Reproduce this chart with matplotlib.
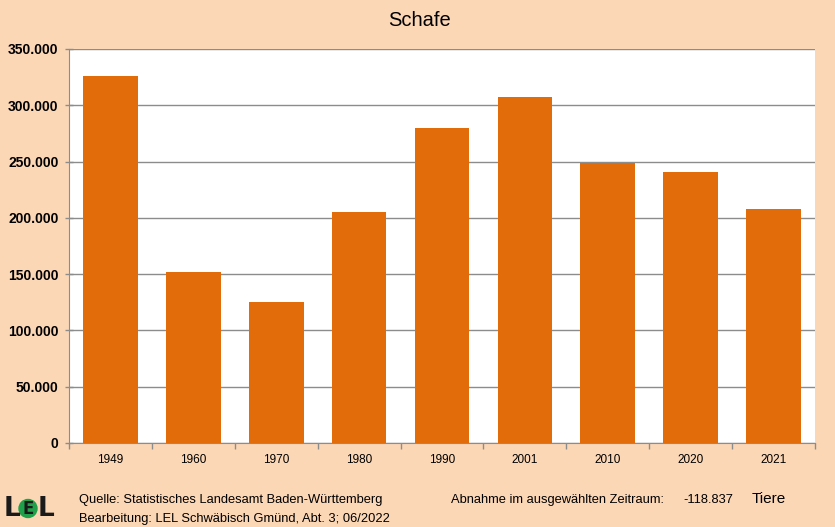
import matplotlib
matplotlib.use("Agg")
import matplotlib.pyplot as plt
from matplotlib.patches import Circle
import numpy as np

years = ["1949", "1960", "1970", "1980", "1990", "2001", "2010", "2020", "2021"]
values = [326300, 152000, 125300, 205200, 279800, 307300, 249000, 240700, 207500]
yticks = [0, 50000, 100000, 150000, 200000, 250000, 300000, 350000]
ytick_labels = ["0", "50.000", "100.000", "150.000", "200.000", "250.000", "300.000", "350.000"]

BG = "#FCD7B6"
BAR = "#E36C0A"
GRID = "#8C8C8C"
FONT = "Liberation Sans"

W, H = 835, 527
fig = plt.figure(figsize=(W / 100, H / 100), dpi=100, facecolor=BG)
ax = fig.add_axes([69 / W, 1 - 443 / H, (815 - 69) / W, (443 - 49) / H])
ax.set_facecolor("white")

x = np.arange(len(years))
ax.bar(x, values, width=0.66, color=BAR, zorder=3)
ax.set_xlim(-0.5, len(years) - 0.5)
ax.set_ylim(0, 350000)

ax.set_yticks(yticks)
ax.set_yticklabels(ytick_labels, fontsize=10, fontweight="bold", color="black", family=FONT)
ax.yaxis.grid(True, color=GRID, linewidth=1, zorder=0)
ax.tick_params(axis="y", direction="inout", length=6, color=GRID, width=1, pad=4.5)

ax.set_xticks(x)
ax.set_xticklabels(years, fontsize=8.5, color="black", family=FONT)
ax.tick_params(axis="x", length=0, pad=8)
ax.set_xticks(np.arange(len(years) + 1) - 0.5, minor=True)
ax.tick_params(axis="x", which="minor", direction="out", length=4, color=GRID, width=1)

for s in ["top", "right"]:
    ax.spines[s].set_visible(False)
ax.spines["left"].set_color(GRID)
ax.spines["bottom"].set_color(GRID)

fig.text(420 / W, 1 - 20 / H, "Schafe", ha="center", va="center", fontsize=14.5, color="black", family=FONT)

# footer
fs = 9.3
fig.text(79 / W, 1 - 500 / H, "Quelle: Statistisches Landesamt Baden-Württemberg",
         ha="left", va="center", fontsize=fs, family=FONT)
fig.text(79 / W, 1 - 519 / H, "Bearbeitung: LEL Schwäbisch Gmünd, Abt. 3; 06/2022",
         ha="left", va="center", fontsize=fs, family=FONT)
fig.text(451 / W, 1 - 500 / H, "Abnahme im ausgewählten Zeitraum:",
         ha="left", va="center", fontsize=fs, family=FONT)
fig.text(683 / W, 1 - 500 / H, "-118.837", ha="left", va="center", fontsize=fs, family=FONT)
fig.text(752 / W, 1 - 499 / H, "Tiere", ha="left", va="center", fontsize=11, family=FONT)

# logo
lax = fig.add_axes([0, 0, 1, 1], facecolor="none")
lax.set_xlim(0, W)
lax.set_ylim(H, 0)
lax.axis("off")
lax.add_patch(Circle((28, 508.5), 9, color="#1FA04A"))
lax.text(12, 509, "L", ha="center", va="center", fontsize=19, fontweight="bold", color="#1a1a1a", family="DejaVu Sans")
lax.text(28, 509, "E", ha="center", va="center", fontsize=12, fontweight="bold", color="#1a1a1a", family="DejaVu Sans")
lax.text(46, 509, "L", ha="center", va="center", fontsize=19, fontweight="bold", color="#1a1a1a", family="DejaVu Sans")

fig.savefig("out.png", dpi=100, facecolor=BG)
